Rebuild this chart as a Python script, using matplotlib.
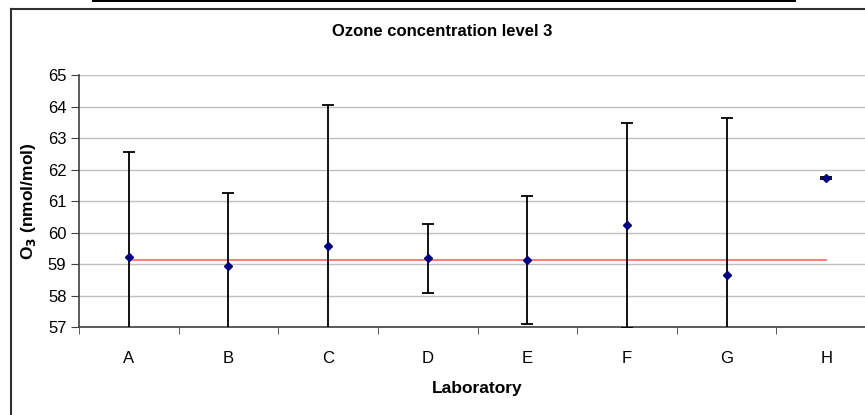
import matplotlib.pyplot as plt
import matplotlib.patches as mpatches
from matplotlib.lines import Line2D
import numpy as np

# data
labs = ['A', 'B', 'C', 'D', 'E', 'F', 'G', 'H']
o3 = [59.23, 58.95, 59.56, 59.18, 59.13, 60.23, 58.66, 61.74]
unc = [3.33, 2.31, 4.50, 1.09, 2.04, 3.26, 4.97, 0.03]
ref_value = 59.13

plt.rcParams['font.family'] = ['Liberation Sans', 'DejaVu Sans']

fig = plt.figure(figsize=(8.65, 4.15), dpi=100)
ax = fig.add_axes([79/865, 1 - 327/415, 797/865, 252/415])

x = np.arange(len(labs))
ax.yaxis.grid(True, color='#c0c0c0', linewidth=1)
ax.set_axisbelow(True)
ax.plot([x[0], x[-1]], [ref_value, ref_value], color='#ff7f7f', linewidth=1.5, zorder=2)
ax.errorbar(x, o3, yerr=unc, fmt='D', color='#000080', markersize=4,
            ecolor='black', elinewidth=1.3, capsize=4.5, capthick=1.3, zorder=3)

ax.set_xlim(-0.5, len(labs) - 0.5)
ax.set_ylim(57, 65)
ax.set_yticks(range(57, 66))
ax.set_xticks(x)
ax.set_xticklabels(labs)
ax.set_xticks(np.arange(-0.5, len(labs)), minor=True)
ax.tick_params(axis='x', which='major', length=0, pad=17, labelsize=12)
ax.tick_params(axis='x', which='minor', length=5, direction='out', color='#404040')
ax.tick_params(axis='y', length=6, direction='out', labelsize=12, pad=3, color='#404040')

for s in ['top', 'right']:
    ax.spines[s].set_visible(False)
for s in ['left', 'bottom']:
    ax.spines[s].set_color('#404040')
    ax.spines[s].set_linewidth(1.2)

ax.set_xlabel('Laboratory', fontsize=12.5, fontweight='bold', labelpad=11)
ax.set_ylabel('O$_\\mathbf{3}$ (nmol/mol)', fontsize=12.5, fontweight='bold', labelpad=7)
fig.text(442/865, 1 - 32/415, 'Ozone concentration level 3', ha='center', va='center',
         fontsize=12, fontweight='bold')

# chart area border (cut off on the right and bottom) and the bar above
fig.add_artist(Line2D([11/865, 11/865], [0, 1 - 9/415], color='#303030', linewidth=1.5))
fig.add_artist(Line2D([11/865, 1], [1 - 9/415, 1 - 9/415], color='#303030', linewidth=1.5))
fig.add_artist(mpatches.Rectangle((92/865, 1 - 2.5/415), 704/865, 2.5/415,
                                  facecolor='black', edgecolor='none'))

fig.savefig('out.png', dpi=100)
